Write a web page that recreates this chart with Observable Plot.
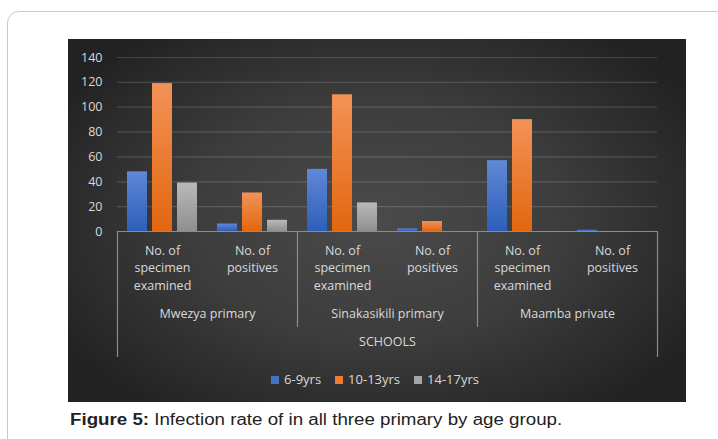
<!DOCTYPE html>
<html>
<head>
<meta charset="utf-8">
<script src="https://cdn.jsdelivr.net/npm/d3@7"></script>
<script src="https://cdn.jsdelivr.net/npm/@observablehq/plot@0.6"></script>
<style>
  html, body { margin: 0; padding: 0; background: #fff; }
  body { width: 718px; height: 439px; overflow: hidden; position: relative; }
  #box { position: absolute; left: 7px; top: 11px; width: 780px; height: 520px; border: 1px solid #c9c9c9; border-radius: 12px; box-sizing: border-box; }
  #chart { position: absolute; left: 68px; top: 39px; width: 618px; height: 363px;
    background: radial-gradient(ellipse 60% 65% at 50% 50%, #4a4a4a 0%, #3d3d3d 50%, #2a2a2a 85%, #222 100%); }
  #chart svg { position: absolute; left: 0; top: 0; }
  #legend { position: absolute; left: 0; top: 332px; width: 614px; height: 16px; text-align: center;
    font-family: "Open Sans", sans-serif; font-size: 13px; color: #d9d9d9; line-height: 16px; white-space: nowrap; }
  #legend span.item { display: inline-block; margin: 0 7px; }
  #legend span.sw { display: inline-block; width: 8px; height: 8px; margin-right: 5px; vertical-align: 0px; }
  #caption { position: absolute; left: 70px; top: 411px; font-family: "Liberation Sans", Arial, sans-serif; font-size: 16px;
    color: #222; white-space: nowrap; transform: scaleX(1.17); transform-origin: 0 0; }
</style>
</head>
<body>
<div id="box"></div>
<div id="chart"><div id="legend"></div></div>
<div id="caption"><b>Figure 5:</b> Infection rate of in all three primary by age group.</div>
<script>
// ---- data ----
const schools = ["Mwezya primary", "Sinakasikili primary", "Maamba private"];
const measures = ["No. of specimen examined", "No. of positives"];
const measureLabels = ["No. of\nspecimen\nexamined", "No. of\npositives"];
const ages = ["6-9yrs", "10-13yrs", "14-17yrs"];
// order: Mwezya spec, Mwezya pos, Sinakasikili spec, Sinakasikili pos, Maamba spec, Maamba pos
const age6to9 = [48, 6, 50, 2, 57, 1];
const age10to13 = [119, 31, 110, 8, 90, 0];
const age14to17 = [39, 9, 23, 0, 0, 0];
const yTicks = [0, 20, 40, 60, 80, 100, 120, 140];
const axisTitle = "SCHOOLS";
const colors = ["#4472c4", "#ed7d31", "#a5a5a5"];

// ---- table ----
const seriesValues = [age6to9, age10to13, age14to17];
const keyOf = (s, m) => s + "|" + m;
const keys = [];
const data = [];
schools.forEach((s, si) => measures.forEach((m, mi) => {
  const k = keyOf(s, m);
  keys.push(k);
  ages.forEach((a, ai) => data.push({key: k, age: a, value: seriesValues[ai][si * 2 + mi]}));
}));
const labelOf = new Map(keys.map((k, i) => [k, measureLabels[i % 2]]));

const W = 618, H = 330, mL = 49, mR = 29, mT = 18, mB = 138;
const half = (W - mL - mR) / keys.length / 2;
const frameH = H - mT - mB;
const textColor = "#d9d9d9";
const lineColor = "#8c8c8c";
const font = "'Open Sans', sans-serif";

const chart = Plot.plot({
  width: W, height: H,
  marginLeft: mL, marginRight: mR, marginTop: mT, marginBottom: mB,
  style: {background: "transparent", color: textColor, fontFamily: font, fontSize: "12.5px", overflow: "visible"},
  fx: {domain: keys, padding: 0, axis: null, label: null},
  x: {domain: ages, paddingInner: 0.2, paddingOuter: 0.4, axis: null},
  y: {domain: [0, 140], axis: null},
  color: {domain: ages, range: ["url(#g0)", "url(#g1)", "url(#g2)"]},
  marks: [
    Plot.gridY(yTicks.slice(1), {stroke: "#ffffff", strokeOpacity: 0.15, strokeWidth: 1.2}),
    Plot.barY(data, {fx: "key", x: "age", y: "value", fill: "age"}),
    Plot.ruleY([0], {stroke: lineColor, strokeWidth: 1.2}),
    Plot.axisY({ticks: yTicks, tickSize: 0, tickPadding: 15, label: null, fontSize: 12.5, fill: textColor}),
    Plot.axisFx({anchor: "bottom", tickFormat: k => labelOf.get(k), tickSize: 0, tickPadding: 11, label: null, lineHeight: 1.4, fontSize: 12.5, fill: textColor}),
    Plot.text(schools, {fx: s => keyOf(s, measures[0]), frameAnchor: "bottom-right", text: d => d, dy: 86, textAnchor: "middle", fill: textColor, fontSize: 12.5}),
    Plot.text([axisTitle], {fx: () => keyOf(schools[1], measures[1]), frameAnchor: "bottom-left", text: d => d, dy: 114, textAnchor: "middle", fill: textColor, fontSize: 12.5}),
    Plot.ruleX(schools.slice(1), {fx: s => keyOf(s, measures[0]), x: null, dx: -half, insetTop: frameH, insetBottom: -96, stroke: lineColor, strokeWidth: 1.2}),
    Plot.ruleX(schools.slice(0, 1), {fx: s => keyOf(s, measures[0]), x: null, dx: -half, insetTop: frameH, insetBottom: -126, stroke: lineColor, strokeWidth: 1.2}),
    Plot.ruleX(schools.slice(-1), {fx: s => keyOf(s, measures[1]), x: null, dx: half, insetTop: frameH, insetBottom: -126, stroke: lineColor, strokeWidth: 1.2})
  ]
});

// gradients for bar fills
const grads = [["#6089d6", "#2d5eb9"], ["#f39257", "#e2670f"], ["#b9b9b9", "#8f8f8f"]];
const defs = d3.select(chart).insert("defs", ":first-child");
grads.forEach((g, i) => {
  const lg = defs.append("linearGradient").attr("id", "g" + i).attr("x1", 0).attr("y1", 0).attr("x2", 0).attr("y2", 1);
  lg.append("stop").attr("offset", "0%").attr("stop-color", g[0]);
  lg.append("stop").attr("offset", "100%").attr("stop-color", g[1]);
});
document.getElementById("chart").prepend(chart);

// legend
const legend = d3.select("#legend");
ages.forEach((a, i) => {
  const it = legend.append("span").attr("class", "item");
  it.append("span").attr("class", "sw").style("background", colors[i]);
  it.append("span").text(a);
});
</script>
</body>
</html>
